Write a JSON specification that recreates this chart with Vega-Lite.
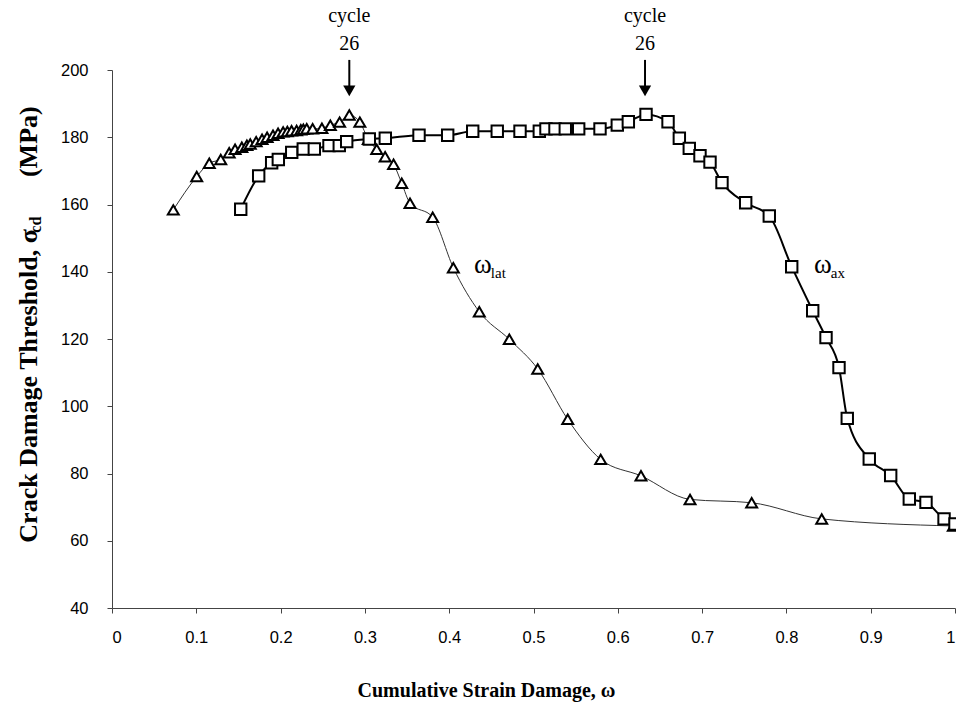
{
  "$schema": "https://vega.github.io/schema/vega-lite/v6.json",
  "width": 843,
  "height": 538,
  "autosize": {"type": "none"},
  "padding": {"left": 112, "top": 70, "right": 1, "bottom": 94},
  "background": "white",
  "config": {
    "view": {"stroke": null},
    "axis": {"grid": false}
  },
  "datasets": {
    "lat": [
      {"w": 0.0727, "s": 158.4}, {"w": 0.1005, "s": 168.3}, {"w": 0.1154, "s": 172.3}, {"w": 0.129, "s": 173.4},
      {"w": 0.139, "s": 175.4}, {"w": 0.146, "s": 176.4}, {"w": 0.154, "s": 177.0}, {"w": 0.160, "s": 177.6},
      {"w": 0.164, "s": 178.0}, {"w": 0.171, "s": 178.7}, {"w": 0.178, "s": 179.4}, {"w": 0.184, "s": 180.0},
      {"w": 0.191, "s": 180.6}, {"w": 0.197, "s": 181.2}, {"w": 0.203, "s": 181.6}, {"w": 0.208, "s": 181.7},
      {"w": 0.213, "s": 181.9}, {"w": 0.219, "s": 182.0}, {"w": 0.224, "s": 182.2}, {"w": 0.227, "s": 182.4},
      {"w": 0.231, "s": 182.5}, {"w": 0.238, "s": 182.5}, {"w": 0.249, "s": 182.7}, {"w": 0.259, "s": 183.6},
      {"w": 0.270, "s": 184.5}, {"w": 0.2815, "s": 186.6}, {"w": 0.294, "s": 184.5}, {"w": 0.304, "s": 179.4},
      {"w": 0.314, "s": 176.4}, {"w": 0.324, "s": 174.2}, {"w": 0.334, "s": 172.0}, {"w": 0.3437, "s": 166.3},
      {"w": 0.3535, "s": 160.4}, {"w": 0.3804, "s": 156.2}, {"w": 0.4049, "s": 141.2}, {"w": 0.4357, "s": 128.1},
      {"w": 0.4713, "s": 119.9}, {"w": 0.505, "s": 111.1}, {"w": 0.5406, "s": 96.1}, {"w": 0.5797, "s": 84.2},
      {"w": 0.6275, "s": 79.3}, {"w": 0.6857, "s": 72.3}, {"w": 0.7588, "s": 71.3}, {"w": 0.8419, "s": 66.5},
      {"w": 0.998, "s": 64.4}
    ],
    "ax": [
      {"w": 0.1527, "s": 158.6}, {"w": 0.174, "s": 168.5}, {"w": 0.1894, "s": 172.4}, {"w": 0.1973, "s": 173.4},
      {"w": 0.2132, "s": 175.5}, {"w": 0.2269, "s": 176.5}, {"w": 0.24, "s": 176.5}, {"w": 0.2574, "s": 177.5},
      {"w": 0.2696, "s": 177.5}, {"w": 0.2784, "s": 178.7}, {"w": 0.3052, "s": 179.5}, {"w": 0.3242, "s": 179.7},
      {"w": 0.3642, "s": 180.6}, {"w": 0.3982, "s": 180.6}, {"w": 0.4279, "s": 181.8}, {"w": 0.457, "s": 181.8},
      {"w": 0.484, "s": 181.8}, {"w": 0.5069, "s": 181.8}, {"w": 0.5148, "s": 182.5}, {"w": 0.5255, "s": 182.5},
      {"w": 0.5377, "s": 182.5}, {"w": 0.5536, "s": 182.5}, {"w": 0.5789, "s": 182.5}, {"w": 0.5994, "s": 183.6},
      {"w": 0.6125, "s": 184.6}, {"w": 0.6335, "s": 186.8}, {"w": 0.6596, "s": 184.6}, {"w": 0.673, "s": 179.7},
      {"w": 0.6848, "s": 176.7}, {"w": 0.6975, "s": 174.5}, {"w": 0.7094, "s": 172.6}, {"w": 0.7236, "s": 166.5},
      {"w": 0.7517, "s": 160.5}, {"w": 0.7797, "s": 156.6}, {"w": 0.8063, "s": 141.5}, {"w": 0.8312, "s": 128.4},
      {"w": 0.847, "s": 120.4}, {"w": 0.8624, "s": 111.5}, {"w": 0.8722, "s": 96.4}, {"w": 0.8983, "s": 84.3},
      {"w": 0.9237, "s": 79.4}, {"w": 0.9458, "s": 72.4}, {"w": 0.9656, "s": 71.4}, {"w": 0.987, "s": 66.5},
      {"w": 1.0, "s": 65.0}
    ],
    "arrows": [
      {"w": 0.2815, "top": 203.0, "bottom": 194.5, "head": 193.8},
      {"w": 0.6323, "top": 203.0, "bottom": 194.5, "head": 193.8}
    ],
    "cycle": [
      {"w": 0.2815, "s": 216.0, "t": "cycle"},
      {"w": 0.2815, "s": 207.8, "t": "26"},
      {"w": 0.6323, "s": 216.0, "t": "cycle"},
      {"w": 0.6323, "s": 207.8, "t": "26"}
    ],
    "omega": [
      {"w": 0.440, "s": 142.0, "t": "ω"},
      {"w": 0.8434, "s": 142.0, "t": "ω"}
    ],
    "sub": [
      {"w": 0.4494, "s": 138.0, "t": "lat"},
      {"w": 0.8527, "s": 138.0, "t": "ax"}
    ],
    "ytitlesub": [
      {"w": -0.090, "s": 154.0, "t": "cd"}
    ]
  },
  "layer": [
    {
      "data": {"name": "lat"},
      "mark": {"type": "line", "interpolate": "monotone", "strokeWidth": 1, "color": "#333333"},
      "encoding": {
        "x": {
          "field": "w", "type": "quantitative",
          "scale": {"domain": [0, 1], "nice": false, "zero": false},
          "axis": {
            "title": "Cumulative Strain Damage, ω",
            "values": [0, 0.1, 0.2, 0.3, 0.4, 0.5, 0.6, 0.7, 0.8, 0.9, 1],
            "format": ".1~f",
            "labelFont": "Liberation Sans", "labelFontSize": 16.5, "labelColor": "#000000",
            "labelPadding": 16, "tickSize": 5, "tickColor": "#444444", "domainColor": "#444444",
            "titleFont": "Liberation Serif", "titleFontSize": 20, "titleFontWeight": "bold", "titleColor": "#000000",
            "titleX": 374, "titleY": 88, "titleBaseline": "alphabetic", "titleAnchor": null, "titleAlign": "center"
          }
        },
        "y": {
          "field": "s", "type": "quantitative",
          "scale": {"domain": [40, 200], "nice": false, "zero": false},
          "axis": {
            "title": "Crack Damage Threshold, σ\u00a0\u00a0\u00a0\u00a0\u00a0\u00a0\u00a0\u00a0(MPa)",
            "values": [40, 60, 80, 100, 120, 140, 160, 180, 200],
            "format": "d",
            "labelFont": "Liberation Sans", "labelFontSize": 16.5, "labelColor": "#000000",
            "labelPadding": 19, "tickSize": 5, "tickColor": "#444444", "domainColor": "#444444",
            "titleFont": "Liberation Serif", "titleFontSize": 26, "titleFontWeight": "bold", "titleColor": "#000000",
            "titleX": -84, "titleY": 254, "titleBaseline": "middle", "titleAlign": "center", "titleAngle": 270
          }
        }
      }
    },
    {
      "data": {"name": "ax"},
      "mark": {"type": "line", "interpolate": "monotone", "strokeWidth": 2, "color": "#000000"},
      "encoding": {
        "x": {"field": "w", "type": "quantitative"},
        "y": {"field": "s", "type": "quantitative"}
      }
    },
    {
      "data": {"name": "lat"},
      "mark": {"type": "point", "shape": "triangle-up", "filled": true, "fill": "#ffffff", "stroke": "#000000", "strokeWidth": 2, "size": 120, "opacity": 1},
      "encoding": {
        "x": {"field": "w", "type": "quantitative"},
        "y": {"field": "s", "type": "quantitative"}
      }
    },
    {
      "data": {"name": "ax"},
      "mark": {"type": "point", "shape": "square", "filled": true, "fill": "#ffffff", "stroke": "#000000", "strokeWidth": 2, "size": 130, "opacity": 1},
      "encoding": {
        "x": {"field": "w", "type": "quantitative"},
        "y": {"field": "s", "type": "quantitative"}
      }
    },
    {
      "data": {"name": "arrows"},
      "mark": {"type": "rule", "strokeWidth": 2, "color": "#000000"},
      "encoding": {
        "x": {"field": "w", "type": "quantitative"},
        "y": {"field": "top", "type": "quantitative"},
        "y2": {"field": "bottom"}
      }
    },
    {
      "data": {"name": "arrows"},
      "mark": {"type": "point", "shape": "triangle-down", "filled": true, "color": "#000000", "size": 150, "opacity": 1},
      "encoding": {
        "x": {"field": "w", "type": "quantitative"},
        "y": {"field": "head", "type": "quantitative"}
      }
    },
    {
      "data": {"name": "cycle"},
      "mark": {"type": "text", "font": "Liberation Serif", "fontSize": 20, "color": "#000000", "align": "center", "baseline": "middle"},
      "encoding": {
        "x": {"field": "w", "type": "quantitative"},
        "y": {"field": "s", "type": "quantitative"},
        "text": {"field": "t"}
      }
    },
    {
      "data": {"name": "omega"},
      "mark": {"type": "text", "font": "Liberation Serif", "fontSize": 27, "color": "#000000", "align": "center", "baseline": "middle"},
      "encoding": {
        "x": {"field": "w", "type": "quantitative"},
        "y": {"field": "s", "type": "quantitative"},
        "text": {"field": "t"}
      }
    },
    {
      "data": {"name": "sub"},
      "mark": {"type": "text", "font": "Liberation Serif", "fontSize": 15, "color": "#000000", "align": "left", "baseline": "alphabetic"},
      "encoding": {
        "x": {"field": "w", "type": "quantitative"},
        "y": {"field": "s", "type": "quantitative"},
        "text": {"field": "t"}
      }
    },
    {
      "data": {"name": "ytitlesub"},
      "mark": {"type": "text", "font": "Liberation Serif", "fontSize": 16, "fontWeight": "bold", "color": "#000000", "align": "center", "baseline": "middle", "angle": 270},
      "encoding": {
        "x": {"field": "w", "type": "quantitative"},
        "y": {"field": "s", "type": "quantitative"},
        "text": {"field": "t"}
      }
    }
  ]
}
